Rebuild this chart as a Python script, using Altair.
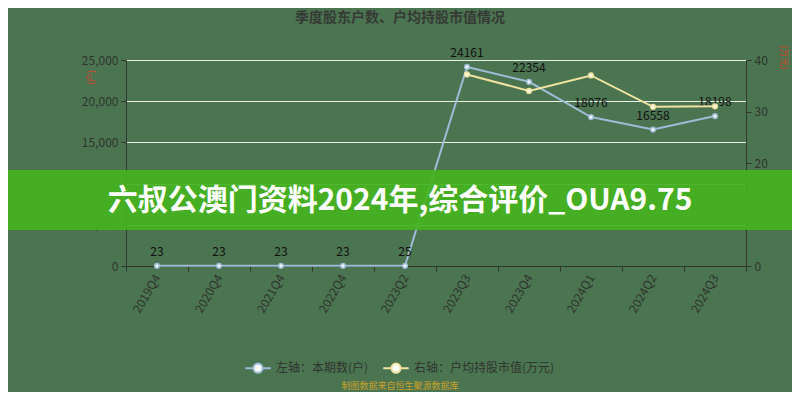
import altair as alt
import pandas as pd

quarters = ["2019Q4", "2020Q4", "2021Q4", "2022Q4", "2023Q2",
            "2023Q3", "2023Q4", "2024Q1", "2024Q2", "2024Q3"]
holders = [23, 23, 23, 23, 25, 24161, 22354, 18076, 16558, 18198]
avg_value = [None, None, None, None, None, 37.2, 34.0, 37.0, 30.9, 31.0]
left_name = "左轴：本期数(户)"
right_name = "右轴：户均持股市值(万元)"
left_ticks = [0, 5000, 10000, 15000, 20000, 25000]
right_ticks = [0, 10, 20, 30, 40]

title_text = "季度股东户数、户均持股市值情况"
footer_text = "制图数据来自恒生聚源数据库"
banner_text = "六叔公澳门资料2024年,综合评价_OUA9.75"

BLUE = "#9dbcd6"
YELLOW = "#f0e3a2"
BG = "#4b7450"
DARK = "#2f352f"
RED = "#d8432e"
FONT = "Noto Sans CJK SC"

df_left = pd.DataFrame({"quarter": quarters, "value": holders, "series": left_name})
df_right = pd.DataFrame({"quarter": quarters, "value": avg_value, "series": right_name}).dropna()

x_enc = alt.X(
    "quarter:N", sort=quarters,
    scale=alt.Scale(type="band", paddingInner=0, paddingOuter=0),
    axis=alt.Axis(title=None, labelAngle=-60, tickBand="extent", labelAlign="right",
                  labelBaseline="middle", labelFontSize=12, labelPadding=4,
                  tickSize=5, domainColor=DARK, tickColor=DARK, labelColor=DARK, grid=False),
)

color_enc = alt.Color(
    "series:N",
    scale=alt.Scale(domain=[left_name, right_name], range=[BLUE, YELLOW]),
    legend=alt.Legend(
        title=None, orient="none", legendX=118, legendY=294, direction="horizontal",
        symbolType="M-1,0L-0.36,0M0.36,0L1,0M0.36,0A0.36,0.36,0,1,1,-0.36,0A0.36,0.36,0,1,1,0.36,0Z",
        symbolSize=650, symbolStrokeWidth=2, symbolFillColor="#f8fbf6",
        labelFontSize=12, labelColor=DARK, labelFont=FONT, columnPadding=10, labelOffset=4,
    ),
)

y_left = alt.Y(
    "value:Q", scale=alt.Scale(domain=[0, 25000]),
    axis=alt.Axis(orient="left", values=left_ticks, format=",.0f", grid=True, gridColor="#e9f0e6",
                  gridWidth=1, tickSize=5, labelPadding=3, labelFontSize=12,
                  domainColor=DARK, tickColor=DARK, labelColor=DARK,
                  title="(户)", titleColor=RED, titleFontSize=9, titleFontWeight="normal",
                  titleAngle=-90, titleX=-31, titleY=17, titleAlign="center"),
)
y_right = alt.Y(
    "value:Q", scale=alt.Scale(domain=[0, 40]),
    axis=alt.Axis(orient="right", values=right_ticks, grid=False, tickSize=5, labelPadding=3,
                  labelFontSize=12, domainColor=DARK, tickColor=DARK, labelColor=DARK,
                  title="(万元)", titleColor=RED, titleFontSize=9, titleFontWeight="normal",
                  titleAngle=90, titleX=32, titleY=-3, titleAlign="center"),
)

base_l = alt.Chart(df_left)
left_line = base_l.mark_line(strokeWidth=2).encode(x=x_enc, y=y_left, color=color_enc)
left_pts = base_l.mark_point(filled=False, fill="#f4f8fb", size=22, strokeWidth=1.5, opacity=1).encode(
    x=x_enc, y=y_left, color=alt.Color("series:N", legend=None))
left_lbl = base_l.mark_text(dy=-10, baseline="alphabetic", fontSize=12, color="#111", font=FONT).encode(
    x=x_enc, y=y_left, text="value:Q")
left_layer = alt.layer(left_line, left_pts, left_lbl)

base_r = alt.Chart(df_right)
right_line = base_r.mark_line(strokeWidth=2).encode(x=x_enc, y=y_right, color=color_enc)
right_pts = base_r.mark_point(filled=False, fill="#fbf9ec", size=22, strokeWidth=1.5, opacity=1).encode(
    x=x_enc, y=y_right, color=alt.Color("series:N", legend=None))
right_layer = alt.layer(right_line, right_pts)

one = alt.Data(values=[{"k": 1}])
title_mark = alt.Chart(one).mark_text(text=title_text, fontSize=14, fontWeight="bold", color="#353a35",
                                      font=FONT).encode(x=alt.value(274), y=alt.value(-42))
footer_mark = alt.Chart(one).mark_text(text=footer_text, fontSize=9, color="#c9a12a",
                                       font=FONT).encode(x=alt.value(274), y=alt.value(326))
banner_rect = alt.Chart(one).mark_rect(color="#45b31f", opacity=0.93).encode(
    x=alt.value(-118), x2=alt.value(666), y=alt.value(110), y2=alt.value(170))
banner_mark = alt.Chart(one).mark_text(text=banner_text, fontSize=30, fontWeight="bold", color="white",
                                       font=FONT).encode(x=alt.value(274), y=alt.value(141))

chart = alt.layer(
    left_layer, right_layer, banner_rect, banner_mark, title_mark, footer_mark
).resolve_scale(y="independent").properties(
    width=620, height=206,
    autosize=alt.AutoSizeParams(type="none"),
    padding={"left": 118, "top": 52, "right": 46, "bottom": 126},
    background=BG,
).configure_view(stroke=None).configure(font=FONT)

chart.save("out.html", embed_options={"renderer": "svg", "actions": False})
